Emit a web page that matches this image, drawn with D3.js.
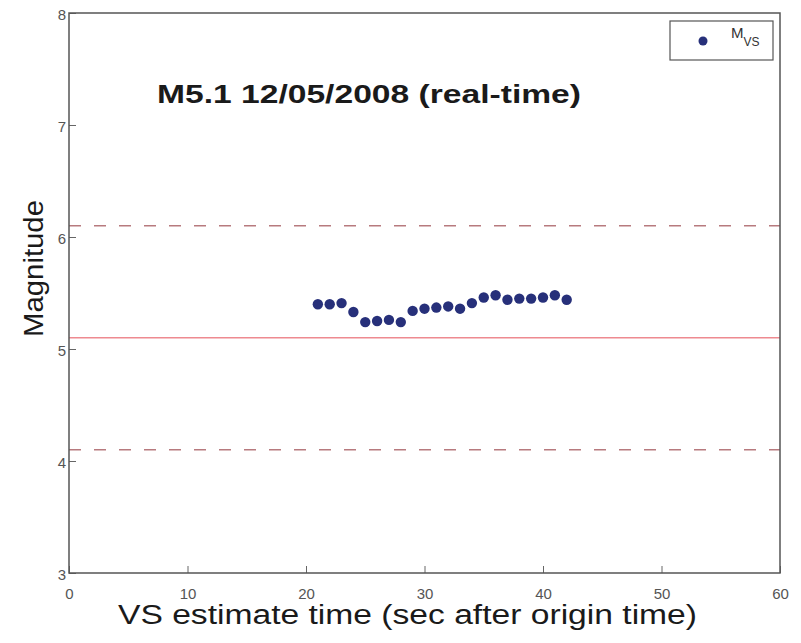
<!DOCTYPE html>
<html>
<head>
<meta charset="utf-8">
<script src="https://cdn.jsdelivr.net/npm/d3@7"></script>
<style>
  body { margin: 0; background: #fff; }
  text { font-family: "Liberation Sans", Arial, sans-serif; }
</style>
</head>
<body>
<div id="chart"></div>
<script>
// estimate time (s after origin) and VS magnitude
const times = [21, 22, 23, 24, 25, 26, 27, 28, 29, 30, 31, 32, 33, 34, 35, 36, 37, 38, 39, 40, 41, 42];
const mags = [5.40, 5.40, 5.41, 5.33, 5.24, 5.25, 5.26, 5.24, 5.34, 5.36, 5.37, 5.38, 5.36, 5.41, 5.46, 5.48, 5.44, 5.45, 5.45, 5.46, 5.48, 5.44];

// catalog magnitude and +/- 1 bounds
const refLines = [
  { value: 6.1, dashed: true },
  { value: 5.1, dashed: false },
  { value: 4.1, dashed: true }
];

const xTicks = [0, 10, 20, 30, 40, 50, 60];
const yTicks = [3, 4, 5, 6, 7, 8];

const W = 801, H = 643;
const mLeft = 69, mRight = 780, mTop = 13, mBottom = 573;

const x = d3.scaleLinear().domain([0, 60]).range([mLeft, mRight]);
const y = d3.scaleLinear().domain([3, 8]).range([mBottom, mTop]);

const svg = d3.select("#chart").append("svg")
  .attr("width", W)
  .attr("height", H);

svg.append("rect").attr("width", W).attr("height", H).attr("fill", "#fff");

// reference lines
svg.selectAll(".ref")
  .data(refLines)
  .enter()
  .append("line")
  .attr("class", "ref")
  .attr("x1", x(0))
  .attr("x2", x(60))
  .attr("y1", d => y(d.value))
  .attr("y2", d => y(d.value))
  .attr("stroke", d => d.dashed ? "#b77a7e" : "#ee8a90")
  .attr("stroke-width", 1.5)
  .attr("stroke-dasharray", d => d.dashed ? "12,13" : null);

// axes, ticks pointing inward
const xAxis = d3.axisBottom(x).tickValues(xTicks).tickSize(-7).tickSizeOuter(0).tickPadding(12);
const yAxis = d3.axisLeft(y).tickValues(yTicks).tickFormat(d3.format("d")).tickSize(-7).tickSizeOuter(0).tickPadding(3);

const gx = svg.append("g")
  .attr("transform", "translate(0," + mBottom + ")")
  .call(xAxis);
const gy = svg.append("g")
  .attr("transform", "translate(" + mLeft + ",0)")
  .call(yAxis);

[gx, gy].forEach(g => {
  g.select(".domain").remove();
  g.selectAll(".tick line").attr("stroke", "#666").attr("stroke-width", 1);
  g.selectAll(".tick text")
    .attr("fill", "#555")
    .style("font-size", "15px");
});
gx.selectAll(".tick text").attr("dy", "0.9em");
gy.selectAll(".tick text").attr("dy", "0.45em");

// box
svg.append("rect")
  .attr("x", mLeft)
  .attr("y", mTop)
  .attr("width", mRight - mLeft)
  .attr("height", mBottom - mTop)
  .attr("fill", "none")
  .attr("stroke", "#555")
  .attr("stroke-width", 1.5);

// points
svg.selectAll(".pt")
  .data(times)
  .enter()
  .append("circle")
  .attr("class", "pt")
  .attr("cx", d => x(d))
  .attr("cy", (d, i) => y(mags[i]))
  .attr("r", 5.2)
  .attr("fill", "#27307a");

// title (reference is stretched horizontally)
svg.append("text")
  .attr("x", 157)
  .attr("y", 103)
  .attr("textLength", 424)
  .attr("lengthAdjust", "spacingAndGlyphs")
  .style("font-size", "25px")
  .style("font-weight", "bold")
  .attr("fill", "#1a1a1a")
  .text("M5.1 12/05/2008 (real-time)");

// axis labels
svg.append("text")
  .attr("x", 118)
  .attr("y", 624)
  .attr("textLength", 579)
  .attr("lengthAdjust", "spacingAndGlyphs")
  .style("font-size", "27px")
  .attr("fill", "#1a1a1a")
  .text("VS estimate time (sec after origin time)");

svg.append("text")
  .attr("transform", "translate(43,337) rotate(-90)")
  .attr("textLength", 137)
  .attr("lengthAdjust", "spacingAndGlyphs")
  .style("font-size", "27px")
  .attr("fill", "#1a1a1a")
  .text("Magnitude");

// legend
const lg = svg.append("g");
lg.append("rect")
  .attr("x", 670)
  .attr("y", 21)
  .attr("width", 103)
  .attr("height", 39)
  .attr("fill", "#fff")
  .attr("stroke", "#555")
  .attr("stroke-width", 1.2);
lg.append("circle")
  .attr("cx", 703)
  .attr("cy", 41)
  .attr("r", 4.5)
  .attr("fill", "#27307a");
const lt = lg.append("text")
  .attr("x", 731)
  .attr("y", 38)
  .style("font-size", "15px")
  .attr("fill", "#333");
lt.append("tspan").text("M");
lt.append("tspan").attr("dy", 8).style("font-size", "12px").text("VS");
</script>
</body>
</html>
